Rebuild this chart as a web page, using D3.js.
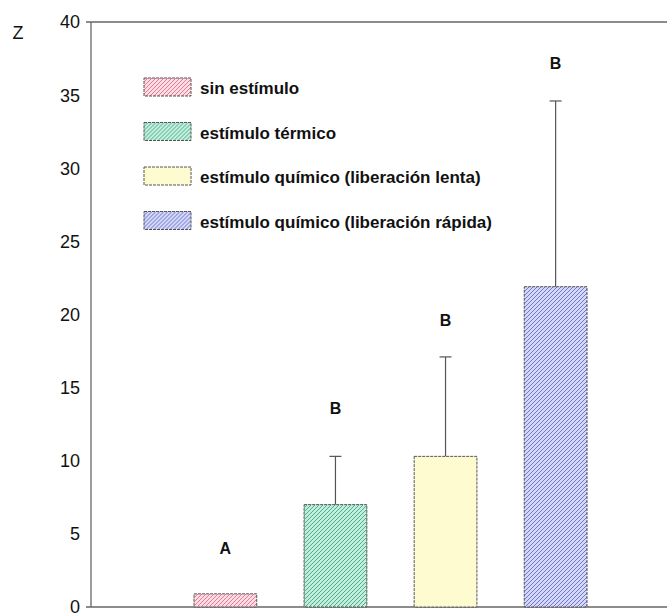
<!DOCTYPE html>
<html>
<head>
<meta charset="utf-8">
<script src="https://cdn.jsdelivr.net/npm/d3@7"></script>
<style>
  body { margin: 0; background: #fff; }
  text { font-family: "Liberation Sans", Arial, sans-serif; }
</style>
</head>
<body>
<div id="chart"></div>
<script>
// Data
let categories = ["sin estímulo", "estímulo térmico", "estímulo químico (liberación lenta)", "estímulo químico (liberación rápida)"];
let means = [0.9, 7.0, 10.3, 21.9];
let errors = [0, 3.3, 6.8, 12.7];
let letters = ["A", "B", "B", "B"];
let letterY = [3.6, 13.2, 19.2, 36.8];
let yTicks = [0, 5, 10, 15, 20, 25, 30, 35, 40];

let fills = ["#fbdde3", "#c2eede", "#fffbd0", "#d4d8f6"];
let hatch = ["#e97a95", "#4fae8c", null, "#6c78d2"];

let w = 667, h = 613;
let margin = {top: 22, right: 0, bottom: 5, left: 91};

let svg = d3.select("#chart").append("svg")
  .attr("width", w).attr("height", h)
  .attr("viewBox", [0, 0, w, h]);

let y = d3.scaleLinear().domain([0, 40]).range([h - margin.bottom - 1, margin.top]);
let x = d3.scaleBand().domain(categories).range([194, 587]).paddingInner(0.43).paddingOuter(0);

// hatch patterns
let defs = svg.append("defs");
categories.forEach((c, i) => {
  let p = defs.append("pattern")
    .attr("id", "hatch" + i)
    .attr("patternUnits", "userSpaceOnUse")
    .attr("width", 4).attr("height", 4);
  p.append("rect").attr("width", 4).attr("height", 4).attr("fill", fills[i]);
  if (hatch[i]) {
    p.append("path")
      .attr("d", "M-1,1 l2,-2 M0,4 l4,-4 M3,5 l2,-2")
      .attr("stroke", hatch[i]).attr("stroke-width", 1);
  }
});

// axes
svg.append("line")
  .attr("x1", margin.left).attr("x2", margin.left)
  .attr("y1", y(40)).attr("y2", y(0))
  .attr("stroke", "#666").attr("stroke-width", 1.3);
svg.append("line")
  .attr("x1", margin.left - 5).attr("x2", w)
  .attr("y1", y(40)).attr("y2", y(40))
  .attr("stroke", "#666").attr("stroke-width", 1.3);
svg.append("line")
  .attr("x1", margin.left - 5).attr("x2", w)
  .attr("y1", y(0)).attr("y2", y(0))
  .attr("stroke", "#666").attr("stroke-width", 1.3);

svg.append("g")
  .selectAll("text")
  .data(yTicks)
  .join("text")
    .attr("x", 80)
    .attr("y", d => y(d))
    .attr("dy", "0.36em")
    .attr("text-anchor", "end")
    .attr("font-size", 18)
    .attr("fill", "#111")
    .text(d => d);

svg.append("text")
  .attr("x", 18).attr("y", 39)
  .attr("text-anchor", "middle")
  .attr("font-size", 18)
  .attr("fill", "#111")
  .text("Z");

// bars
let band = x.bandwidth();
svg.append("g")
  .selectAll("rect")
  .data(categories)
  .join("rect")
    .attr("x", d => x(d))
    .attr("y", (d, i) => y(means[i]))
    .attr("width", band)
    .attr("height", (d, i) => y(0) - y(means[i]))
    .attr("fill", (d, i) => "url(#hatch" + i + ")")
    .attr("stroke", "#555")
    .attr("stroke-width", 1)
    .attr("stroke-dasharray", "3,1");

// error bars
let eg = svg.append("g").attr("stroke", "#555").attr("stroke-width", 1.2);
categories.forEach((c, i) => {
  if (!errors[i]) return;
  let cx = x(c) + band / 2;
  eg.append("line")
    .attr("x1", cx).attr("x2", cx)
    .attr("y1", y(means[i])).attr("y2", y(means[i] + errors[i]));
  eg.append("line")
    .attr("x1", cx - 6).attr("x2", cx + 6)
    .attr("y1", y(means[i] + errors[i])).attr("y2", y(means[i] + errors[i]));
});

// significance letters
svg.append("g")
  .selectAll("text")
  .data(categories)
  .join("text")
    .attr("x", d => x(d) + band / 2)
    .attr("y", (d, i) => y(letterY[i]))
    .attr("text-anchor", "middle")
    .attr("font-size", 16)
    .attr("font-weight", "bold")
    .attr("fill", "#111")
    .text((d, i) => letters[i]);

// legend
let legend = svg.append("g")
  .selectAll("g")
  .data(categories)
  .join("g")
    .attr("transform", (d, i) => `translate(144,${78 + i * 44.5})`);
legend.append("rect")
  .attr("width", 47).attr("height", 18)
  .attr("fill", (d, i) => "url(#hatch" + i + ")")
  .attr("stroke", "#555")
  .attr("stroke-dasharray", "3,1");
legend.append("text")
  .attr("x", 56).attr("y", 10)
  .attr("dy", "0.36em")
  .attr("font-size", 17)
  .attr("font-weight", "bold")
  .attr("fill", "#111")
  .text(d => d);
</script>
</body>
</html>
